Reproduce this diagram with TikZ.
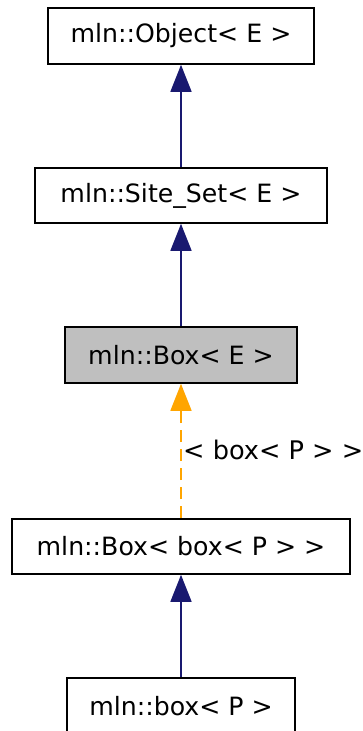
\documentclass[tikz,border=0pt]{standalone}
\usepackage{fontspec}
\setmainfont{DejaVu Sans}
\usetikzlibrary{arrows.meta}
\definecolor{edgeblue}{HTML}{191970}
\definecolor{edgeorange}{HTML}{FFA500}
\definecolor{hlgray}{HTML}{BFBFBF}
\begin{document}
\begin{tikzpicture}[x=1pt,y=1pt,
  cls/.style={draw=black, line width=1.6pt, fill=white, inner sep=0pt,
    font=\fontsize{25.2}{29}\selectfont, text=black},
  inh/.style={draw=edgeblue, line width=1.6pt, -{Triangle[length=27pt,width=21pt]}, edgeblue},
  tmpl/.style={draw=edgeorange, line width=1.6pt, dash pattern=on 12pt off 7pt, -{Triangle[length=27pt,width=21pt]}, edgeorange},
  lbl/.style={font=\fontsize{25.6}{29}\selectfont, text=black, inner sep=0pt}]
\useasboundingbox (0,0) rectangle (362,-731);
\fill[white] (0,0) rectangle (362,-731);
\node[cls, minimum width=266, minimum height=56] (obj) at (181,-36) {mln::Object< E >};
\node[cls, minimum width=292, minimum height=55] (site) at (181,-195.5) {mln::Site\_Set< E >};
\node[cls, fill=hlgray, minimum width=232, minimum height=56] (boxE) at (181,-355) {mln::Box< E >};
\node[cls, minimum width=338, minimum height=55] (boxbox) at (181,-546.5) {mln::Box< box< P > >};
\node[cls, minimum width=228, minimum height=56] (boxP) at (181,-706) {mln::box< P >};
\draw[inh] (site.north) -- (obj.south);
\draw[inh] (boxE.north) -- (site.south);
\draw[tmpl] (boxbox.north) -- (boxE.south);
\draw[inh] (boxP.north) -- (boxbox.south);
\node[lbl, anchor=west] (tl) at (183,-450) {< box< P > >};
\end{tikzpicture}
\end{document}
